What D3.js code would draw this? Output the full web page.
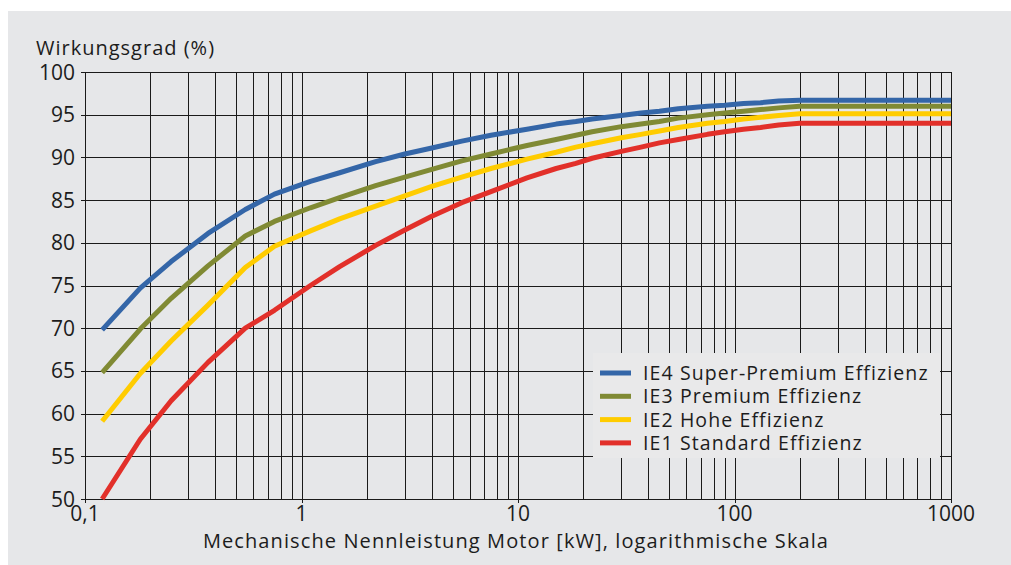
<!DOCTYPE html>
<html>
<head>
<meta charset="utf-8">
<script src="https://cdn.jsdelivr.net/npm/d3@7"></script>
<style>
  html, body { margin: 0; padding: 0; background: #ffffff; }
  svg { display: block; font-family: "Open Sans", "Noto Sans", sans-serif; font-variant-ligatures: none; }
</style>
</head>
<body>
<svg id="chart" width="1011" height="565"></svg>
<script>
// Rated motor power in kW (IEC standard sizes)
const power = [0.12, 0.18, 0.25, 0.37, 0.55, 0.75, 1.1, 1.5, 2.2, 3, 4, 5.5, 7.5, 11, 15, 18.5, 22, 30, 37, 45, 55, 75, 90, 110, 132, 160, 200, 1000];

// Efficiency in % per efficiency class
const ie4 = [69.8, 74.7, 77.8, 81.1, 83.9, 85.7, 87.2, 88.2, 89.5, 90.4, 91.1, 91.9, 92.6, 93.3, 93.9, 94.2, 94.5, 94.9, 95.2, 95.4, 95.7, 96.0, 96.1, 96.3, 96.4, 96.6, 96.7, 96.7];
const ie3 = [64.8, 69.9, 73.5, 77.3, 80.8, 82.5, 84.1, 85.3, 86.7, 87.7, 88.6, 89.6, 90.4, 91.4, 92.1, 92.6, 93.0, 93.6, 93.9, 94.2, 94.6, 95.0, 95.2, 95.4, 95.6, 95.8, 96.0, 96.0];
const ie2 = [59.1, 64.7, 68.5, 72.7, 77.1, 79.6, 81.4, 82.8, 84.3, 85.5, 86.6, 87.7, 88.7, 89.8, 90.6, 91.2, 91.6, 92.3, 92.7, 93.1, 93.5, 94.0, 94.2, 94.5, 94.7, 94.9, 95.1, 95.1];
const ie1 = [50.0, 57.0, 61.5, 66.0, 70.0, 72.1, 75.0, 77.2, 79.7, 81.5, 83.1, 84.7, 86.0, 87.6, 88.7, 89.3, 89.9, 90.7, 91.2, 91.7, 92.1, 92.7, 93.0, 93.3, 93.5, 93.8, 94.0, 94.0];

const seriesNames = ["IE4 Super-Premium Effizienz", "IE3 Premium Effizienz", "IE2 Hohe Effizienz", "IE1 Standard Effizienz"];
const seriesColors = ["#3466a8", "#808a34", "#ffcc00", "#e2302a"];
const seriesValues = [ie4, ie3, ie2, ie1];

const xTickValues = [0.1, 1, 10, 100, 1000];
const xTickLabels = ["0,1", "1", "10", "100", "1000"];
const yTickValues = [50, 55, 60, 65, 70, 75, 80, 85, 90, 95, 100];

const yTitle = "Wirkungsgrad (%)";
const xTitle = "Mechanische Nennleistung Motor [kW], logarithmische Skala";

const svg = d3.select("#chart");
const textColor = "#1c1c1c";

// panel background
svg.append("rect")
  .attr("x", 8).attr("y", 11).attr("width", 1003).attr("height", 554)
  .attr("fill", "#e6e7e9");

const x = d3.scaleLog().domain([0.1, 1000]).range([85, 951]);
const y = d3.scaleLinear().domain([50, 100]).range([499, 72]);

const crisp = v => Math.round(v) + 0.5;

// grid: every integer multiple within each decade
const xGrid = [];
for (let d = 0.1; d < 1000; d *= 10) {
  for (let k = 1; k <= 9; k++) xGrid.push(+(d * k).toPrecision(3));
}
xGrid.push(1000);

const grid = svg.append("g").attr("stroke", "#1a1a1a").attr("stroke-width", 1).attr("fill", "none");

grid.selectAll("line.v").data(xGrid).join("line")
  .attr("class", "v")
  .attr("x1", d => crisp(x(d))).attr("x2", d => crisp(x(d)))
  .attr("y1", y(100)).attr("y2", d => xTickValues.includes(d) ? y(50) + 4 : y(50));

grid.selectAll("line.h").data(yTickValues).join("line")
  .attr("class", "h")
  .attr("y1", d => crisp(y(d))).attr("y2", d => crisp(y(d)))
  .attr("x1", x(0.1) - 4).attr("x2", x(1000));

// efficiency curves
const line = d3.line()
  .x((d, i) => x(power[i]))
  .y(d => y(d));

svg.append("g").selectAll("path").data(seriesValues).join("path")
  .attr("d", d => line(d))
  .attr("fill", "none")
  .attr("stroke", (d, i) => seriesColors[i])
  .attr("stroke-width", 5)
  .attr("stroke-linejoin", "round");

// y tick labels
svg.append("g").selectAll("text").data(yTickValues).join("text")
  .attr("x", 75)
  .attr("y", d => y(d))
  .attr("dy", "0.36em")
  .attr("text-anchor", "end")
  .attr("font-size", 21)
  .attr("fill", textColor)
  .text(d => d);

// x tick labels
svg.append("g").selectAll("text").data(xTickValues).join("text")
  .attr("x", d => x(d))
  .attr("y", 521)
  .attr("text-anchor", "middle")
  .attr("font-size", 21)
  .attr("fill", textColor)
  .text((d, i) => xTickLabels[i]);

// axis titles
svg.append("text")
  .attr("x", 36).attr("y", 55)
  .attr("font-size", 20)
  .attr("letter-spacing", 1)
  .attr("fill", textColor)
  .text(yTitle);

svg.append("text")
  .attr("x", 516).attr("y", 548)
  .attr("text-anchor", "middle")
  .attr("font-size", 20)
  .attr("letter-spacing", 1.1)
  .attr("fill", textColor)
  .text(xTitle);

// legend
const legend = svg.append("g");
legend.append("rect")
  .attr("x", 593).attr("y", 353).attr("width", 347).attr("height", 105)
  .attr("fill", "#e9e9ea");

const rows = legend.selectAll("g").data(seriesNames).join("g")
  .attr("transform", (d, i) => `translate(600, ${373 + i * 23.3})`);
rows.append("line")
  .attr("x1", 0).attr("x2", 31)
  .attr("stroke", (d, i) => seriesColors[i])
  .attr("stroke-width", 5);
rows.append("text")
  .attr("x", 43)
  .attr("dy", "0.36em")
  .attr("font-size", 19.5)
  .attr("letter-spacing", 1.1)
  .attr("fill", textColor)
  .text(d => d);
</script>
</body>
</html>
